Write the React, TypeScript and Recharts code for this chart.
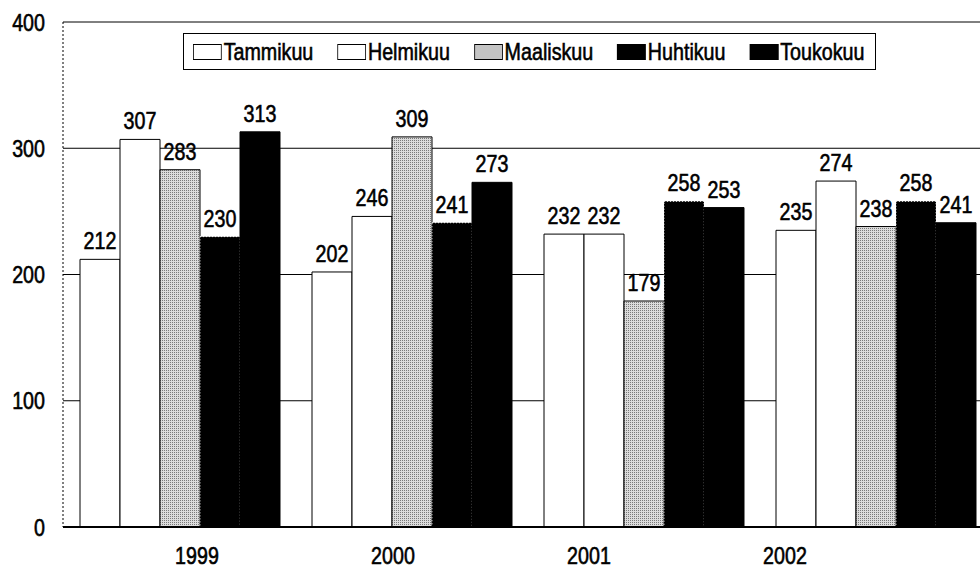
import React from 'react';
import { BarChart, Bar, XAxis, YAxis, CartesianGrid, LabelList } from 'recharts';

const years = ['1999', '2000', '2001', '2002'];
const months = ['Tammikuu', 'Helmikuu', 'Maaliskuu', 'Huhtikuu', 'Toukokuu'];

const tammikuu = [212, 202, 232, 235];
const helmikuu = [307, 246, 232, 274];
const maaliskuu = [283, 309, 179, 238];
const huhtikuu = [230, 241, 258, 258];
const toukokuu = [313, 273, 253, 241];

const yTicks = [0, 100, 200, 300, 400];

const seriesValues = [tammikuu, helmikuu, maaliskuu, huhtikuu, toukokuu];
const fills = ['#ffffff', '#ffffff', 'url(#stipple)', '#000000', '#000000'];

const data = years.map((year, i) => {
  const row: Record<string, string | number> = { year };
  months.forEach((m, s) => {
    row[m] = seriesValues[s][i];
  });
  return row;
});

// no narrow font installed, so squeeze Liberation Sans horizontally
const font = "'Liberation Sans', Arial, sans-serif";
const squeeze = 0.82;

const NarrowText: React.FC<any> = ({ x, y, anchor, dy, children }) => (
  <text
    transform={`translate(${x},${y}) scale(${squeeze},1)`}
    textAnchor={anchor}
    dy={dy}
    fill="#000"
    stroke="#000"
    strokeWidth={0.6}
    fontSize={24}
    fontFamily={font}
  >
    {children}
  </text>
);

const YTick: React.FC<any> = ({ x, y, payload }) => (
  <NarrowText x={x} y={y} anchor="end" dy="0.36em">{payload.value}</NarrowText>
);

const XTick: React.FC<any> = ({ x, y, payload }) => (
  <NarrowText x={x} y={y} anchor="middle" dy="0.72em">{payload.value}</NarrowText>
);

const BarValue: React.FC<any> = ({ x, y, width, value }) => (
  <NarrowText x={Number(x) + Number(width) / 2} y={Number(y) - 10} anchor="middle" dy="0">{value}</NarrowText>
);

const LegendBox: React.FC = () => (
  <div
    style={{
      position: 'absolute',
      left: 183,
      top: 33,
      width: 693,
      height: 37,
      boxSizing: 'border-box',
      border: '1px solid #000',
      background: '#fff',
      overflow: 'hidden',
    }}
  >
    <div
      style={{
        position: 'absolute',
        left: 9,
        top: 0,
        height: 35,
        display: 'flex',
        alignItems: 'center',
        whiteSpace: 'nowrap',
        transform: `scaleX(${squeeze})`,
        transformOrigin: 'left center',
        fontFamily: font,
        fontSize: 24,
        color: '#000',
        WebkitTextStroke: '0.6px #000',
      }}
    >
      {months.map((m, i) => (
        <div key={m} style={{ display: 'flex', alignItems: 'center', marginRight: 24 / squeeze }}>
          <span
            style={{
              display: 'inline-block',
              width: 27 / squeeze,
              height: 14,
              border: '1px solid #000',
              background: i === 2 ? '#c4c4c4' : fills[i],
              marginRight: 2 / squeeze,
            }}
          />
          <span>{m}</span>
        </div>
      ))}
    </div>
  </div>
);

export default function App() {
  return (
    <div
      style={{
        position: 'fixed',
        left: 0,
        top: 0,
        width: 980,
        height: 571,
        overflow: 'hidden',
        background: '#fff',
      }}
    >
      <BarChart
        width={1000}
        height={571}
        data={data}
        margin={{ top: 22, right: 9, left: 0, bottom: 0 }}
        barCategoryGap={17}
        barGap={0}
      >
        <defs>
          <pattern id="stipple" width="2" height="2" patternUnits="userSpaceOnUse">
            <rect width="2" height="2" fill="#dcdcdc" />
            <rect width="1" height="1" fill="#7a7a7a" />
          </pattern>
        </defs>
        <CartesianGrid vertical={false} stroke="#000" />
        <XAxis
          xAxisId="labels"
          dataKey="year"
          height={44}
          padding={{ left: 36, right: 108 }}
          axisLine={{ stroke: '#000', strokeWidth: 2 }}
          tickLine={false}
          tickSize={0}
          tickMargin={20}
          tick={<XTick />}
        />
        <XAxis xAxisId="bars" dataKey="year" hide height={0} />
        <YAxis
          width={63}
          domain={[0, 400]}
          ticks={yTicks}
          axisLine={{ stroke: '#000', strokeDasharray: '2 2' }}
          tickLine={false}
          tickSize={0}
          tickMargin={18}
          tick={<YTick />}
        />
        {months.map((m, i) => (
          <Bar
            key={m}
            xAxisId="bars"
            dataKey={m}
            fill={fills[i]}
            stroke={i === 3 ? '#fff' : '#000'}
            strokeDasharray={i === 3 ? '1 2' : undefined}
            strokeWidth={1}
            isAnimationActive={false}
          >
            <LabelList dataKey={m} content={<BarValue />} />
          </Bar>
        ))}
      </BarChart>
      <LegendBox />
    </div>
  );
}
